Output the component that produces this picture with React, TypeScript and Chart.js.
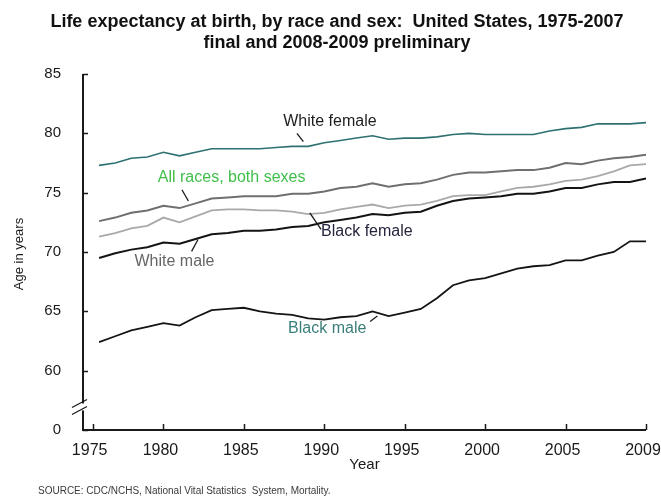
import React, { useEffect, useRef } from 'react';
import { Chart, registerables } from 'chart.js';
Chart.register(...registerables);

const years = [1975, 1976, 1977, 1978, 1979, 1980, 1981, 1982, 1983, 1984, 1985, 1986, 1987, 1988, 1989, 1990, 1991, 1992, 1993, 1994, 1995, 1996, 1997, 1998, 1999, 2000, 2001, 2002, 2003, 2004, 2005, 2006, 2007, 2008, 2009];
const whiteFemale = [77.3, 77.5, 77.9, 78.0, 78.4, 78.1, 78.4, 78.7, 78.7, 78.7, 78.7, 78.8, 78.9, 78.9, 79.2, 79.4, 79.6, 79.8, 79.5, 79.6, 79.6, 79.7, 79.9, 80.0, 79.9, 79.9, 79.9, 79.9, 80.2, 80.4, 80.5, 80.8, 80.8, 80.8, 80.9];
const allRaces = [72.6, 72.9, 73.3, 73.5, 73.9, 73.7, 74.1, 74.5, 74.6, 74.7, 74.7, 74.7, 74.9, 74.9, 75.1, 75.4, 75.5, 75.8, 75.5, 75.7, 75.8, 76.1, 76.5, 76.7, 76.7, 76.8, 76.9, 76.9, 77.1, 77.5, 77.4, 77.7, 77.9, 78.0, 78.2];
const blackFemale = [71.3, 71.6, 72.0, 72.2, 72.9, 72.5, 73.0, 73.5, 73.6, 73.6, 73.5, 73.5, 73.4, 73.2, 73.3, 73.6, 73.8, 74.0, 73.7, 73.9, 74.0, 74.3, 74.7, 74.8, 74.8, 75.1, 75.4, 75.5, 75.7, 76.0, 76.1, 76.4, 76.8, 77.3, 77.4];
const whiteMale = [69.5, 69.9, 70.2, 70.4, 70.8, 70.7, 71.1, 71.5, 71.6, 71.8, 71.8, 71.9, 72.1, 72.2, 72.5, 72.7, 72.9, 73.2, 73.1, 73.3, 73.4, 73.9, 74.3, 74.5, 74.6, 74.7, 74.9, 74.9, 75.1, 75.4, 75.4, 75.7, 75.9, 75.9, 76.2];
const blackMale = [62.4, 62.9, 63.4, 63.7, 64.0, 63.8, 64.5, 65.1, 65.2, 65.3, 65.0, 64.8, 64.7, 64.4, 64.3, 64.5, 64.6, 65.0, 64.6, 64.9, 65.2, 66.1, 67.2, 67.6, 67.8, 68.2, 68.6, 68.8, 68.9, 69.3, 69.3, 69.7, 70.0, 70.9, 70.9];

const xTickYears = [1974.6, 1979, 1984, 1989, 1994, 1999, 2004, 2009];
const xTickLabels = ['1975', '1980', '1985', '1990', '1995', '2000', '2005', '2009'];
const yTickValues = [55, 60, 65, 70, 75, 80, 85];
const yTickLabels = ['0', '60', '65', '70', '75', '80', '85'];

const titleLines = ['Life expectancy at birth, by race and sex:  United States, 1975-2007', 'final and 2008-2009 preliminary'];
const xTitle = 'Year';
const yTitle = 'Age in years';
const sourceText = 'SOURCE: CDC/NCHS, National Vital Statistics  System, Mortality.';

const FONT = "'Liberation Sans', Arial, Helvetica, sans-serif";

// series styling (kept apart from the data)
const seriesDefs = [
  { name: 'White female', data: whiteFemale, color: '#2f7172', width: 1.6 },
  { name: 'All races, both sexes', data: allRaces, color: '#6f6f6f', width: 2 },
  { name: 'Black female', data: blackFemale, color: '#a9a9a9', width: 1.8 },
  { name: 'White male', data: whiteMale, color: '#141414', width: 2 },
  { name: 'Black male', data: blackMale, color: '#141414', width: 1.8 },
];

// direct labels, positioned in data coordinates (year, age)
const annotations = [
  { text: 'White female', color: '#1e1e1e', at: [1986.45, 80.97], leader: [1987.3, 80.0, 1987.7, 79.3] },
  { text: 'All races, both sexes', color: '#3fbf4a', at: [1978.65, 76.28], leader: [1980.15, 75.25, 1980.55, 74.3] },
  { text: 'White male', color: '#666666', at: [1977.2, 69.2], leader: [1980.75, 70.05, 1981.15, 71.05] },
  { text: 'Black female', color: '#25253d', at: [1988.8, 71.7], leader: [1988.1, 73.3, 1988.8, 71.9] },
  { text: 'Black male', color: '#3a7e7a', at: [1986.75, 63.55], leader: [1991.85, 64.15, 1992.3, 64.6] },
];

const decorPlugin = {
  id: 'decor',
  beforeDraw(chart: any) {
    const { ctx, width, height } = chart;
    ctx.save();
    ctx.fillStyle = '#ffffff';
    ctx.fillRect(0, 0, width, height);
    ctx.restore();
  },
  afterDraw(chart: any) {
    const { ctx, chartArea, scales } = chart;
    const x = scales.x;
    const y = scales.y;
    const { left, right, top, bottom } = chartArea;
    ctx.save();
    // axes
    ctx.strokeStyle = '#1a1a1a';
    ctx.lineWidth = 2;
    ctx.beginPath();
    ctx.moveTo(left, top);
    ctx.lineTo(left, bottom);
    ctx.lineTo(right, bottom);
    ctx.stroke();
    // inner tick marks
    ctx.lineWidth = 1.5;
    ctx.beginPath();
    xTickYears.forEach((v) => {
      const px = Math.round(x.getPixelForValue(v)) + 0.5;
      ctx.moveTo(px, bottom);
      ctx.lineTo(px, bottom - 6);
    });
    yTickValues.forEach((v) => {
      const py = Math.round(y.getPixelForValue(v)) + 0.5;
      ctx.moveTo(left, py);
      ctx.lineTo(left + 5, py);
    });
    ctx.stroke();
    // axis break
    const yb = y.getPixelForValue(56.9);
    ctx.fillStyle = '#ffffff';
    ctx.fillRect(left - 3, yb - 4, 6, 7);
    ctx.strokeStyle = '#1a1a1a';
    ctx.lineWidth = 1.3;
    ctx.beginPath();
    ctx.moveTo(left - 11, yb);
    ctx.lineTo(left + 4, yb - 8);
    ctx.moveTo(left - 11, yb + 7);
    ctx.lineTo(left + 4, yb - 1);
    ctx.stroke();

    // direct labels
    ctx.lineWidth = 1.3;
    annotations.forEach((a) => {
      ctx.strokeStyle = '#1a1a1a';
      ctx.beginPath();
      ctx.moveTo(x.getPixelForValue(a.leader[0]), y.getPixelForValue(a.leader[1]));
      ctx.lineTo(x.getPixelForValue(a.leader[2]), y.getPixelForValue(a.leader[3]));
      ctx.stroke();
      ctx.fillStyle = a.color;
      ctx.font = `16px ${FONT}`;
      ctx.textAlign = 'left';
      ctx.textBaseline = 'middle';
      ctx.fillText(a.text, x.getPixelForValue(a.at[0]), y.getPixelForValue(a.at[1]));
    });

    // titles
    ctx.fillStyle = '#111111';
    ctx.textAlign = 'center';
    ctx.textBaseline = 'middle';
    ctx.font = `bold 18px ${FONT}`;
    ctx.fillText(titleLines[0], 337, 22);
    ctx.fillText(titleLines[1], 337, 43);

    ctx.font = `15px ${FONT}`;
    ctx.fillStyle = '#1a1a1a';
    ctx.fillText(xTitle, (left + right) / 2, 465);

    ctx.save();
    ctx.translate(19, 254);
    ctx.rotate(-Math.PI / 2);
    ctx.font = `13px ${FONT}`;
    ctx.fillText(yTitle, 0, 0);
    ctx.restore();

    ctx.font = `10px ${FONT}`;
    ctx.fillStyle = '#3a3a3a';
    ctx.textAlign = 'left';
    ctx.fillText(sourceText, 38, 491);
    ctx.restore();
  },
};

export default function App() {
  const ref = useRef<HTMLCanvasElement>(null);
  useEffect(() => {
    document.body.style.margin = '0';
    const canvas = ref.current!;
    const chart = new Chart(canvas, {
      type: 'line',
      data: {
        datasets: seriesDefs.map((s) => ({
          label: s.name,
          data: years.map((yr, i) => ({ x: yr, y: s.data[i] })),
          borderColor: s.color,
          backgroundColor: s.color,
          borderWidth: s.width,
          pointRadius: 0,
          tension: 0,
          fill: false,
        })),
      },
      options: {
        animation: false,
        responsive: false,
        events: [],
        layout: { padding: { top: 74, right: 15, bottom: 0, left: 0 } },
        plugins: {
          legend: { display: false },
          title: { display: false },
          tooltip: { enabled: false },
        },
        scales: {
          x: {
            type: 'linear',
            min: 1974,
            max: 2009,
            grid: { display: false, drawTicks: false },
            border: { display: false },
            afterBuildTicks: (scale: any) => {
              scale.ticks = xTickYears.map((v) => ({ value: v }));
            },
            afterFit: (scale: any) => {
              scale.height = 70;
              scale.paddingLeft = 0;
              scale.paddingRight = 0;
            },
            ticks: {
              autoSkip: false,
              maxRotation: 0,
              padding: 11,
              labelOffset: -3,
              color: '#1a1a1a',
              font: { family: FONT, size: 16 },
              callback: (_v: any, i: number) => xTickLabels[i],
            },
          },
          y: {
            type: 'linear',
            min: 55,
            max: 85,
            grid: { display: false, drawTicks: false },
            border: { display: false },
            afterBuildTicks: (scale: any) => {
              scale.ticks = yTickValues.map((v) => ({ value: v }));
            },
            afterFit: (scale: any) => {
              scale.width = 83;
            },
            ticks: {
              padding: 22,
              color: '#1a1a1a',
              font: { family: FONT, size: 15 },
              callback: (_v: any, i: number) => yTickLabels[i],
            },
          },
        },
      },
      plugins: [decorPlugin],
    } as any);
    return () => chart.destroy();
  }, []);
  return (
    <div style={{ width: 661, height: 500 }}>
      <canvas ref={ref} width={661} height={500} style={{ display: 'block' }} />
    </div>
  );
}
